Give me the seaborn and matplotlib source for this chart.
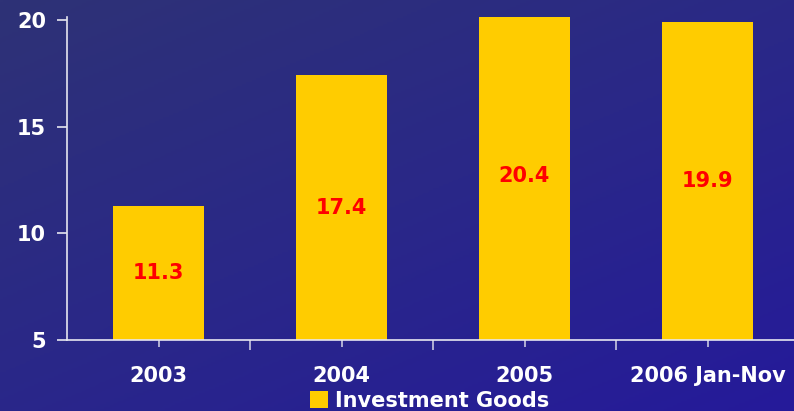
import numpy as np
import pandas as pd
import matplotlib
matplotlib.use("Agg")
import matplotlib.pyplot as plt
from matplotlib.patches import Patch
from matplotlib.colors import LinearSegmentedColormap
import seaborn as sns

categories = ["2003", "2004", "2005", "2006 Jan-Nov"]
values = [11.3, 17.4, 20.4, 19.9]
labels = ["11.3", "17.4", "20.4", "19.9"]
series_name = "Investment Goods"
yticks = [5, 10, 15, 20]

sns.set_style("white")
plt.rcParams["font.family"] = ["DejaVu Sans"]
plt.rcParams["font.weight"] = "bold"

W, H = 794, 411
fig = plt.figure(figsize=(W / 100, H / 100), dpi=100)

# gradient background
bg = fig.add_axes([0, 0, 1, 1], zorder=-10)
yy, xx = np.mgrid[0:1:200j, 0:1:400j]
grad = (xx * 0.45 + yy * 0.55)
cmap = LinearSegmentedColormap.from_list("bgc", ["#2e3276", "#2a2888", "#251a9a"])
bg.imshow(grad, cmap=cmap, aspect="auto", extent=[0, 1, 0, 1], origin="upper")
bg.axis("off")

ax = fig.add_axes([67 / W, 1 - 340 / H, (799 - 67) / W, (340 - 17) / H])
ax.patch.set_alpha(0)

df = pd.DataFrame({"cat": categories, "val": values})
sns.barplot(data=df, x="cat", y="val", color="#FFCC00", width=0.5,
            saturation=1, ax=ax, edgecolor="none", linewidth=0)

ax.set_xlim(-0.5, 3.5)
ax.set_ylim(5, 20 + 3 / 21.33)
ax.set_xlabel("")
ax.set_ylabel("")

for i, (v, t) in enumerate(zip(values, labels)):
    ax.text(i, (5 + v) / 2, t, color="#FF0000", fontsize=15, fontweight="bold",
            ha="center", va="center")

for s in ["top", "right"]:
    ax.spines[s].set_visible(False)
for s in ["left", "bottom"]:
    ax.spines[s].set_color("#e6e6f0")
    ax.spines[s].set_linewidth(1.2)

ax.set_yticks(yticks)
ax.set_yticklabels([str(t) for t in yticks])
ax.tick_params(axis="y", which="major", left=True, length=7, width=1.2,
               color="#e6e6f0", labelcolor="white", labelsize=15, pad=8)

ax.set_xticks([0.5, 1.5, 2.5])
ax.set_xticklabels(["", "", ""])
ax.set_xticks([0, 1, 2, 3], minor=True)
ax.set_xticklabels(categories, minor=True)
ax.tick_params(axis="x", which="major", bottom=True, length=7, width=1.2,
               color="#c8c8e0")
ax.tick_params(axis="x", which="minor", bottom=True, length=5, width=1.2,
               color="#c8c8e0", labelcolor="white", labelsize=15, pad=14)
for lab in ax.get_xticklabels(minor=True) + ax.get_yticklabels():
    lab.set_fontweight("bold")

handle = Patch(facecolor="#FFCC00", edgecolor="none", label=series_name)
leg = fig.legend(handles=[handle], loc="lower center",
                 bbox_to_anchor=(430 / W, -10 / H), frameon=False,
                 fontsize=15, handlelength=0.85, handleheight=0.85,
                 handletextpad=0.35, borderpad=0)
for t in leg.get_texts():
    t.set_color("white")
    t.set_fontweight("bold")

fig.savefig("out.png", dpi=100)
